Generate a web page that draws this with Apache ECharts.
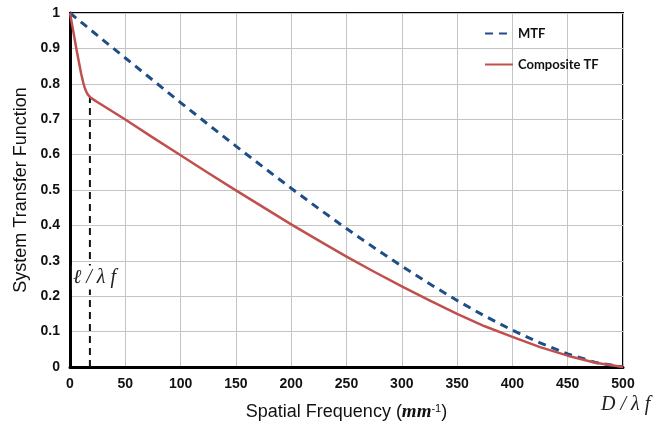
<!DOCTYPE html>
<html>
<head>
<meta charset="utf-8">
<script src="https://cdn.jsdelivr.net/npm/echarts@6/dist/echarts.min.js"></script>
<style>html,body{margin:0;padding:0;background:#fff}#c{width:661px;height:424px}</style>
</head>
<body>
<div id="c"></div>
<script>
// Data
var mtfX = [0, 25, 50, 75, 100, 125, 150, 175, 200, 225, 250, 275, 300, 325, 350, 375, 400, 425, 450, 475, 500];
var mtfY = [1.0, 0.936, 0.873, 0.810, 0.747, 0.685, 0.624, 0.564, 0.505, 0.447, 0.391, 0.337, 0.285, 0.235, 0.188, 0.144, 0.104, 0.068, 0.037, 0.013, 0.0];
var compX = [0, 2, 4, 6, 8, 10, 12, 13, 14, 15, 16, 17, 18, 20, 22, 25, 50, 75, 100, 125, 150, 175, 200, 225, 250, 275, 300, 325, 350, 375, 400, 425, 450, 475, 500];
var compY = [1.0, 0.965, 0.93, 0.895, 0.862, 0.830, 0.803, 0.792, 0.783, 0.776, 0.770, 0.766, 0.763, 0.758, 0.754, 0.748, 0.699, 0.648, 0.598, 0.548, 0.499, 0.451, 0.403, 0.357, 0.312, 0.269, 0.228, 0.188, 0.150, 0.115, 0.085, 0.056, 0.032, 0.012, 0.0];
var cutoffX = 18;
var cutoffY = 0.762;
var xTicks = [0, 50, 100, 150, 200, 250, 300, 350, 400, 450, 500];
var yTicks = [0, 0.1, 0.2, 0.3, 0.4, 0.5, 0.6, 0.7, 0.8, 0.9, 1];
var seriesNames = ['MTF', 'Composite TF'];

function pairs(xs, ys) { return xs.map(function (x, i) { return [x, ys[i]]; }); }

var chart = echarts.init(document.getElementById('c'), null, { renderer: 'canvas' });
var tickFont = { color: '#111', fontFamily: 'Liberation Sans, Arial, sans-serif', fontWeight: 'bold', fontSize: 14 };

chart.setOption({
  animation: false,
  backgroundColor: '#fff',
  grid: { left: 70, right: 38, top: 13, bottom: 57, containLabel: false, outerBoundsMode: 'none', show: true, borderColor: '#000', borderWidth: 2, backgroundColor: 'transparent' },
  legend: {
    orient: 'vertical', left: 479, top: 22, itemWidth: 28, itemHeight: 14, itemGap: 18,
    itemStyle: { opacity: 0 },
    textStyle: { fontFamily: 'Lato, Liberation Sans, Arial, sans-serif', fontWeight: 'bold', fontSize: 13, color: '#111' },
    data: seriesNames
  },
  xAxis: {
    type: 'value', min: 0, max: 500, interval: 50,
    axisLine: { show: true, onZero: false, lineStyle: { color: '#000', width: 3 } },
    axisTick: { show: false },
    splitLine: { show: true, lineStyle: { color: '#c4c4c4', width: 1 } },
    axisLabel: Object.assign({ margin: 10, formatter: function (v) { return xTicks.indexOf(v) >= 0 ? String(v) : ''; } }, tickFont),
    name: '{n|Spatial Frequency (}{it|mm}{sup|-1}{n|)}',
    nameLocation: 'middle', nameGap: 36,
    nameTextStyle: {
      rich: {
        n: { fontFamily: 'Liberation Sans, Arial, sans-serif', fontSize: 18, color: '#111' },
        it: { fontFamily: 'Liberation Serif, Times New Roman, serif', fontStyle: 'italic', fontWeight: 'bold', fontSize: 19, color: '#111' },
        sup: { fontFamily: 'Liberation Sans, Arial, sans-serif', fontSize: 11, color: '#111', verticalAlign: 'top', padding: [0, 0, 8, 0] }
      }
    }
  },
  yAxis: {
    type: 'value', min: 0, max: 1, interval: 0.1,
    axisLine: { show: true, lineStyle: { color: '#000', width: 3 } },
    axisTick: { show: false },
    splitLine: { show: true, lineStyle: { color: '#c4c4c4', width: 1 } },
    axisLabel: Object.assign({ margin: 10, formatter: function (v) { var r = Math.round(v * 10) / 10; return String(r); } }, tickFont),
    name: 'System Transfer Function',
    nameLocation: 'middle', nameGap: 38,
    nameTextStyle: { fontFamily: 'Liberation Sans, Arial, sans-serif', fontSize: 18, color: '#111' }
  },
  series: [
    {
      name: seriesNames[0], type: 'line', data: pairs(mtfX, mtfY), smooth: false, symbol: 'none',
      lineStyle: { color: '#1f4e87', width: 3, type: [8, 6] }, itemStyle: { color: '#1f4e87' }, z: 3
    },
    {
      name: seriesNames[1], type: 'line', data: pairs(compX, compY), smooth: false, symbol: 'none',
      lineStyle: { color: '#c0504d', width: 2.5, join: 'round' }, itemStyle: { color: '#c0504d' }, z: 4
    },
    {
      name: 'cutoff', type: 'line', data: [[cutoffX, 0], [cutoffX, cutoffY]], symbol: 'none',
      lineStyle: { color: '#111', width: 2, type: [7, 5] }, z: 2, silent: true
    }
  ]
});

function placeLabels() {
  var p1 = chart.convertToPixel({ gridIndex: 0 }, [cutoffX, 0.25]);
  var p2 = chart.convertToPixel({ gridIndex: 0 }, [500, 0]);
  chart.setOption({
    graphic: [
      { type: 'text', left: p1[0] - 18, top: p1[1] - 13, z: 10,
        style: { text: 'ℓ / λ f', fontFamily: 'Liberation Serif, Times New Roman, serif', fontStyle: 'italic', fontSize: 20, fill: '#222', backgroundColor: '#fff', padding: [2, 1, 2, 1] } },
      { type: 'text', left: p2[0] - 22, top: p2[1] + 28, z: 10,
        style: { text: 'D / λ f', fontFamily: 'Liberation Serif, Times New Roman, serif', fontStyle: 'italic', fontSize: 20, fill: '#222' } }
    ]
  });
}
placeLabels();
</script>
</body>
</html>
